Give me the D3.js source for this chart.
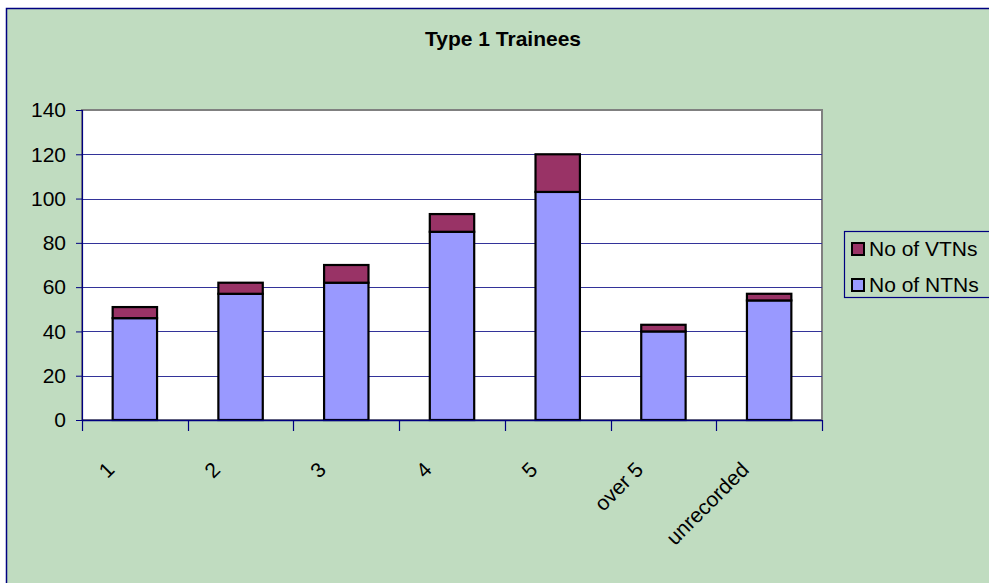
<!DOCTYPE html>
<html>
<head>
<meta charset="utf-8">
<script src="https://cdn.jsdelivr.net/npm/d3@7"></script>
<style>
  html, body { margin: 0; padding: 0; background: #ffffff; overflow: hidden; }
  svg { display: block; font-family: "Liberation Sans", Arial, sans-serif; }
</style>
</head>
<body>
<svg id="chart" width="989" height="583"></svg>
<script>
const categories = ["1", "2", "3", "4", "5", "over 5", "unrecorded"];
const ntnValues = [46, 57, 62, 85, 103, 40, 54];
const vtnValues = [5, 5, 8, 8, 17, 3, 3];
const seriesNames = ["No of NTNs", "No of VTNs"];
const yTicks = [0, 20, 40, 60, 80, 100, 120, 140];
const titleText = "Type 1 Trainees";

const svg = d3.select("#chart");
const W = 989, H = 583;
const plot = { left: 82, right: 822, top: 110, bottom: 420 };

// chart area
svg.append("rect")
  .attr("x", 6.5).attr("y", 8.5)
  .attr("width", W + 20).attr("height", H + 20)
  .attr("fill", "#C0DCC0")
  .attr("stroke", "#000080").attr("stroke-width", 1.5);

// title
svg.append("text")
  .attr("x", 503).attr("y", 46)
  .attr("text-anchor", "middle")
  .attr("font-size", 21).attr("font-weight", "bold")
  .attr("fill", "#000")
  .text(titleText);

const x = d3.scaleBand()
  .domain(categories)
  .range([plot.left, plot.right])
  .paddingInner(0.58)
  .paddingOuter(0.29);

const y = d3.scaleLinear()
  .domain([0, 140])
  .range([plot.bottom, plot.top]);

// plot area
svg.append("rect")
  .attr("x", plot.left).attr("y", plot.top)
  .attr("width", plot.right - plot.left).attr("height", plot.bottom - plot.top)
  .attr("fill", "#ffffff")
  .attr("stroke", "#808080").attr("stroke-width", 2);

// gridlines
svg.append("g")
  .selectAll("line")
  .data(yTicks.filter(d => d > 0 && d < 140))
  .join("line")
  .attr("x1", plot.left).attr("x2", plot.right)
  .attr("y1", d => Math.round(y(d)) + 0.5).attr("y2", d => Math.round(y(d)) + 0.5)
  .attr("stroke", "#333399").attr("stroke-width", 1.2);

// stacked data
const data = categories.map((c, i) => ({ cat: c, ntn: ntnValues[i], vtn: vtnValues[i] }));
const stack = d3.stack().keys(["ntn", "vtn"]);
const stacked = stack(data);
const colors = { ntn: "#9999FF", vtn: "#993366" };

svg.append("g")
  .selectAll("g")
  .data(stacked)
  .join("g")
  .attr("fill", d => colors[d.key])
  .selectAll("rect")
  .data(d => d)
  .join("rect")
  .attr("x", d => x(d.data.cat))
  .attr("y", d => y(d[1]))
  .attr("width", x.bandwidth())
  .attr("height", d => y(d[0]) - y(d[1]))
  .attr("stroke", "#000").attr("stroke-width", 2.2);

// y axis
const yAxis = d3.axisLeft(y).tickValues(yTicks).tickSize(6).tickPadding(10);
const yg = svg.append("g")
  .attr("transform", `translate(${plot.left},0)`)
  .call(yAxis);
yg.select(".domain").attr("stroke", "#000080").attr("stroke-width", 1.2);
yg.selectAll(".tick line").attr("stroke", "#000080");
yg.selectAll(".tick text")
  .attr("font-size", 21)
  .attr("font-family", "'Liberation Sans', Arial, sans-serif")
  .attr("fill", "#000");

// x axis line and ticks at band boundaries
const step = x.step();
const boundaries = [plot.left].concat(categories.map(c => x(c) + x.bandwidth() / 2 + step / 2));
const xg = svg.append("g");
xg.append("line")
  .attr("x1", plot.left).attr("x2", plot.right)
  .attr("y1", plot.bottom + 0.5).attr("y2", plot.bottom + 0.5)
  .attr("stroke", "#000080").attr("stroke-width", 1.5);
xg.selectAll("line.tk")
  .data(boundaries)
  .join("line")
  .attr("class", "tk")
  .attr("x1", d => Math.round(d) + 0.5).attr("x2", d => Math.round(d) + 0.5)
  .attr("y1", plot.bottom).attr("y2", plot.bottom + 11)
  .attr("stroke", "#000080").attr("stroke-width", 1.2);

// category labels
xg.selectAll("text")
  .data(categories)
  .join("text")
  .attr("transform", c => `translate(${x(c) + x.bandwidth() / 2 - 19},${plot.bottom + 51}) rotate(-45)`)
  .attr("text-anchor", "end")
  .attr("font-size", 21)
  .attr("fill", "#000")
  .text(c => c);

// legend
const lg = svg.append("g");
lg.append("rect")
  .attr("x", 844.5).attr("y", 231.5)
  .attr("width", 200).attr("height", 66)
  .attr("fill", "#C0DCC0")
  .attr("stroke", "#000080").attr("stroke-width", 1.2);
const legendItems = [
  { name: seriesNames[1], key: "vtn" },
  { name: seriesNames[0], key: "ntn" }
];
legendItems.forEach((it, i) => {
  const cy = 249 + i * 36;
  lg.append("rect")
    .attr("x", 852).attr("y", cy - 6)
    .attr("width", 12).attr("height", 12)
    .attr("fill", colors[it.key])
    .attr("stroke", "#000").attr("stroke-width", 2);
  lg.append("text")
    .attr("x", 869).attr("y", cy + 7)
    .attr("font-size", 21)
    .attr("fill", "#000")
    .text(it.name);
});
</script>
</body>
</html>
